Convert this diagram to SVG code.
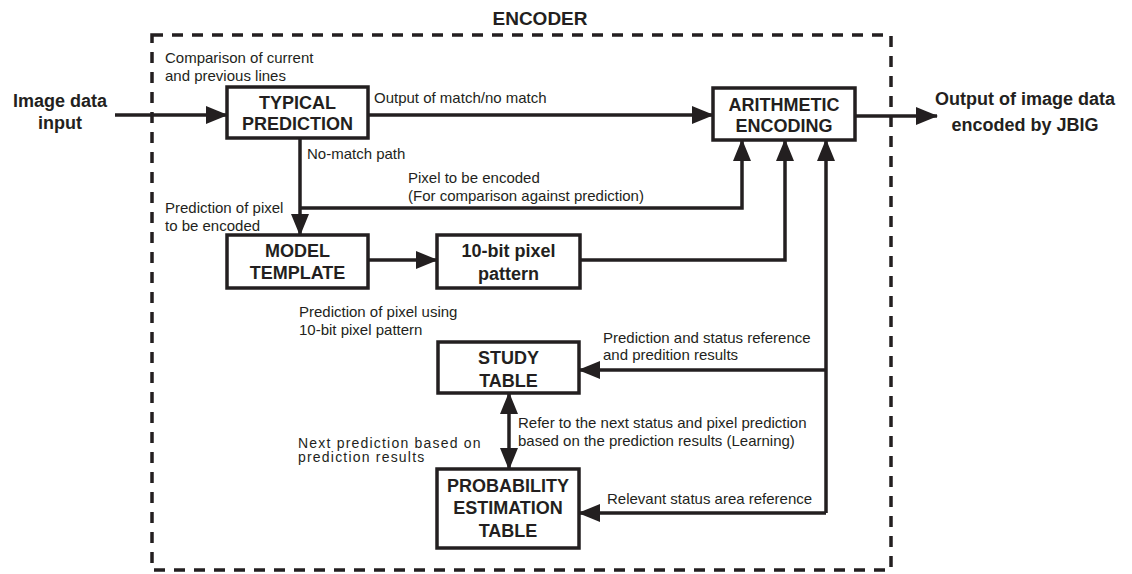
<svg xmlns="http://www.w3.org/2000/svg" width="1132" height="574" viewBox="0 0 1132 574">
<style>
.box{fill:#fff;stroke:#231f20;stroke-width:3.5}
.ln{fill:none;stroke:#231f20;stroke-width:3.5;stroke-linejoin:miter}
.arr{marker-end:url(#ah)}
.b{font-family:"Liberation Sans",Arial,sans-serif;font-weight:bold;font-size:18px;fill:#231f20;text-anchor:middle}
.t{font-family:"Liberation Sans",Arial,sans-serif;font-size:15px;fill:#231f20}
</style>
<defs>
<marker id="ah" markerUnits="userSpaceOnUse" markerWidth="22" markerHeight="18" refX="21" refY="9" orient="auto-start-reverse">
<path d="M0,0 L22,9 L0,18 z" fill="#231f20"/>
</marker>
</defs>
<rect id="encoder-border" x="152" y="35" width="739" height="535" fill="none" stroke="#231f20" stroke-width="3.5" stroke-dasharray="11 9"/>
<text class="b" x="540" y="25" style="font-size:19px">ENCODER</text>

<g id="connectors">
<line class="ln arr" x1="115" y1="115" x2="227" y2="115"/>
<line class="ln arr" x1="368" y1="115" x2="713" y2="115"/>
<line class="ln arr" x1="855" y1="116" x2="937" y2="116"/>
<line class="ln arr" x1="300" y1="138" x2="300" y2="235"/>
<polyline class="ln arr" points="300,208 742,208 742,140"/>
<line class="ln arr" x1="368" y1="260" x2="437" y2="260"/>
<polyline class="ln arr" points="580,260 785,260 785,140"/>
<line class="ln arr" x1="826" y1="513" x2="826" y2="140"/>
<line class="ln arr" x1="826" y1="370" x2="579" y2="370"/>
<line class="ln arr" x1="826" y1="513" x2="579" y2="513"/>
<line class="ln" x1="509" y1="393" x2="509" y2="469" marker-start="url(#ah)" marker-end="url(#ah)"/>
</g>

<g id="input-label">
<text class="b" x="60" y="107">Image data</text>
<text class="b" x="60" y="129">input</text>
</g>
<g id="output-label">
<text class="b" x="1025" y="105">Output of image data</text>
<text class="b" x="1025" y="131">encoded by JBIG</text>
</g>

<g id="typical-prediction">
<rect class="box" x="227" y="87" width="141" height="51"/>
<text class="b" x="297.5" y="109">TYPICAL</text>
<text class="b" x="297.5" y="130">PREDICTION</text>
</g>
<g id="arithmetic-encoding">
<rect class="box" x="713" y="88" width="142" height="52"/>
<text class="b" x="784" y="111">ARITHMETIC</text>
<text class="b" x="784" y="132">ENCODING</text>
</g>
<g id="model-template">
<rect class="box" x="227" y="235" width="141" height="53"/>
<text class="b" x="297.5" y="257">MODEL</text>
<text class="b" x="297.5" y="279">TEMPLATE</text>
</g>
<g id="pixel-pattern">
<rect class="box" x="437" y="235" width="143" height="53"/>
<text class="b" x="508.5" y="257">10-bit pixel</text>
<text class="b" x="508.5" y="280">pattern</text>
</g>
<g id="study-table">
<rect class="box" x="438" y="342" width="141" height="51"/>
<text class="b" x="508.5" y="364">STUDY</text>
<text class="b" x="508.5" y="387">TABLE</text>
</g>
<g id="probability-table">
<rect class="box" x="437" y="469" width="142" height="79"/>
<text class="b" x="508" y="492">PROBABILITY</text>
<text class="b" x="508" y="514">ESTIMATION</text>
<text class="b" x="508" y="537">TABLE</text>
</g>

<g id="labels">
<text class="t" x="165" y="63">Comparison of current</text>
<text class="t" x="165" y="81">and previous lines</text>
<text class="t" x="374" y="103">Output of match/no match</text>
<text class="t" x="307" y="159">No-match path</text>
<text class="t" x="408" y="183">Pixel to be encoded</text>
<text class="t" x="408" y="201">(For comparison against prediction)</text>
<text class="t" x="165" y="213">Prediction of pixel</text>
<text class="t" x="165" y="231">to be encoded</text>
<text class="t" x="299" y="317">Prediction of pixel using</text>
<text class="t" x="299" y="335">10-bit pixel pattern</text>
<text class="t" x="603" y="343">Prediction and status reference</text>
<text class="t" x="603" y="360">and predition results</text>
<text class="t" x="518" y="428">Refer to the next status and pixel prediction</text>
<text class="t" x="518" y="446">based on the prediction results (Learning)</text>
<text class="t" x="298" y="448" style="font-size:14px;letter-spacing:1.2px">Next prediction based on</text>
<text class="t" x="298" y="462" style="font-size:14px;letter-spacing:1.2px">prediction results</text>
<text class="t" x="607" y="504">Relevant status area reference</text>
</g>
</svg>
